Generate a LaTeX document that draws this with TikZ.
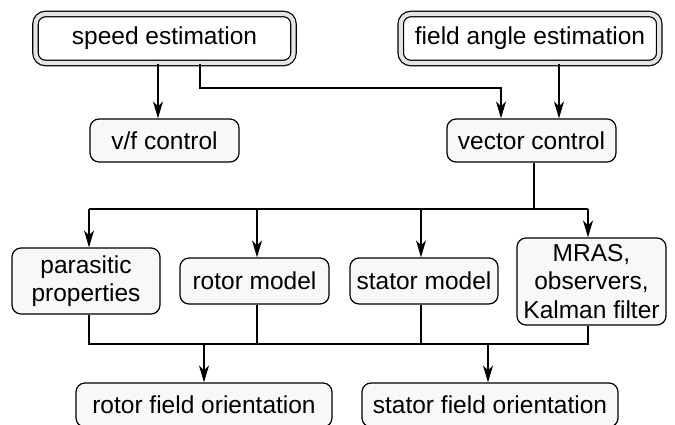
\documentclass[tikz,border=0pt]{standalone}
\usepackage{fontspec}
\setmainfont{Liberation Sans}
\usetikzlibrary{arrows.meta}
\definecolor{boxfill}{HTML}{F8F8F8}
\definecolor{gapfill}{HTML}{E4E4E4}
\begin{document}
\begin{tikzpicture}[x=1pt,y=-1pt,
  every node/.style={font=\fontsize{24.5}{28.5}\selectfont, inner sep=0pt, align=center},
  box/.style={draw, line width=1.2pt, rounded corners=9pt, fill=boxfill},
  dbox/.style={draw, line width=1.2pt, rounded corners=10pt, fill=white, double=gapfill, double distance=4.2pt},
  arr/.style={line width=1.3pt, -{Stealth[length=17pt,width=10pt,inset=5pt]}},
  ln/.style={line width=1.3pt}]
\useasboundingbox (0,0) rectangle (675,424);
\node[dbox, minimum width=258pt, minimum height=49pt] (se) at (164.5,38.5) {speed estimation};
\node[dbox, minimum width=258.5pt, minimum height=49pt] (fa) at (530,38.5) {field angle estimation};
\node[box, minimum width=149pt, minimum height=43pt] (vf) at (164.5,140.5) {v/f control};
\node[box, minimum width=169pt, minimum height=43pt] (vc) at (531.5,140.5) {vector control};
\node[box, minimum width=148pt, minimum height=66pt] (pp) at (86,281) {parasitic\\properties};
\node[box, minimum width=149pt, minimum height=46pt] (rm) at (254.5,281) {rotor model};
\node[box, minimum width=148pt, minimum height=46pt] (sm) at (424,281) {stator model};
\node[box, minimum width=149pt, minimum height=87pt] (mr) at (591.5,281.5) {MRAS,\\observers,\\Kalman filter};
\node[box, minimum width=256pt, minimum height=44pt] (rf) at (204,405) {rotor field orientation};
\node[box, minimum width=256pt, minimum height=44pt] (sf) at (490,405) {stator field orientation};
\coordinate (j1) at (501,88);
\coordinate (bus1) at (534,209);
\coordinate (bl) at (89,209);
\coordinate (br) at (588,209);
\coordinate (b2) at (257,209);
\coordinate (b3) at (421,209);
\coordinate (bus2l) at (89,344);
\coordinate (bus2r) at (588,344);
\coordinate (c2) at (257,344);
\coordinate (c3) at (421,344);
\coordinate (o1) at (204,344);
\coordinate (o2) at (488,344);
% top
\draw[arr] ([xshift=-6.5pt]se.south) -- ([xshift=-6.5pt]vf.north);
\draw[arr] ([xshift=35.5pt]se.south) |- (j1) -- (j1 |- vc.north);
\draw[arr] ([xshift=29pt]fa.south) -- ([xshift=27.5pt]vc.north);
% distribution bus
\draw[ln] ([xshift=2.5pt]vc.south) -- (bus1);
\draw[ln] (bl) -- (br);
\draw[arr] (bl) -- (bl |- pp.north);
\draw[arr] (b2) -- (b2 |- rm.north);
\draw[arr] (b3) -- (b3 |- sm.north);
\draw[arr] (br) -- (br |- mr.north);
% collection bus
\draw[ln] (bus2l |- pp.south) -- (bus2l) -- (bus2r) -- (bus2r |- mr.south);
\draw[ln] (c2 |- rm.south) -- (c2);
\draw[ln] (c3 |- sm.south) -- (c3);
\draw[arr] (o1) -- (o1 |- rf.north);
\draw[arr] (o2) -- (o2 |- sf.north);
\end{tikzpicture}
\end{document}
